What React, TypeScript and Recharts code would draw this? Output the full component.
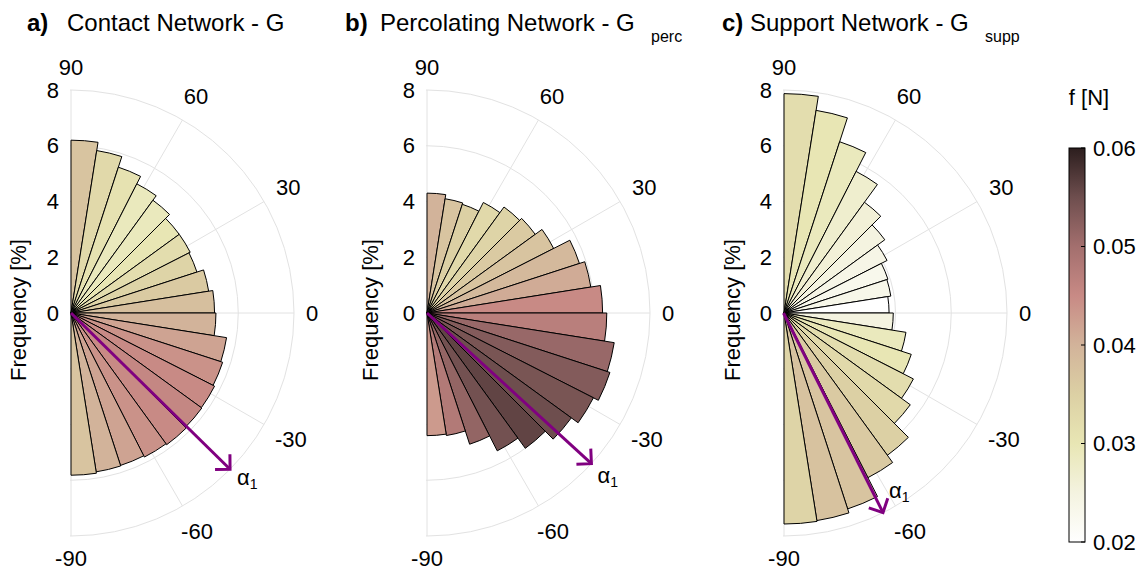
import React from 'react';
import { RadialBarChart, RadialBar, PolarAngleAxis, PolarRadiusAxis, PolarGrid, Cell } from 'recharts';

const FONT = '"Liberation Sans", Arial, Helvetica, sans-serif';

// orientation bins (deg), 9 deg wide, listed from +90 down to -90
const bins = [
  '85.5', '76.5', '67.5', '58.5', '49.5', '40.5', '31.5', '22.5', '13.5', '4.5',
  '-4.5', '-13.5', '-22.5', '-31.5', '-40.5', '-49.5', '-58.5', '-67.5', '-76.5', '-85.5',
];

// a) contact network
const contactFreq = [6.2, 5.9, 5.5, 5.2, 5.0, 4.8, 4.8, 4.75, 5.0, 5.15, 5.2, 5.65, 5.72, 5.78, 5.8, 5.84, 5.8, 5.75, 5.77, 5.82];
const contactForce = [0.037, 0.033, 0.031, 0.029, 0.029, 0.03, 0.032, 0.034, 0.036, 0.038, 0.04, 0.042, 0.044, 0.045, 0.0455, 0.045, 0.044, 0.042, 0.04, 0.037];

// b) percolating network
const percFreq = [4.3, 4.15, 4.1, 4.45, 4.7, 4.8, 5.1, 5.75, 5.95, 6.3, 6.45, 6.8, 6.9, 6.7, 6.4, 6.0, 5.55, 4.95, 4.45, 4.4];
const percForce = [0.04, 0.037, 0.035, 0.033, 0.034, 0.036, 0.037, 0.039, 0.041, 0.045, 0.047, 0.051, 0.053, 0.054, 0.055, 0.056, 0.0545, 0.0515, 0.048, 0.043];

// c) support network
const suppFreq = [7.87, 7.36, 6.46, 5.7, 4.91, 4.47, 4.15, 3.92, 3.88, 3.77, 3.92, 4.43, 4.8, 5.21, 5.6, 6.31, 6.63, 7.39, 7.54, 7.57];
const suppForce = [0.032, 0.03, 0.029, 0.027, 0.026, 0.025, 0.024, 0.023, 0.0235, 0.02, 0.025, 0.029, 0.03, 0.032, 0.033, 0.035, 0.036, 0.037, 0.0375, 0.034];

// principal direction alpha_1 (deg)
const alphaContact = -44.5;
const alphaPerc = -42.5;
const alphaSupp = -63.5;

const angleTicks = [90, 60, 30, 0, -30, -60, -90];
const radiusTicks = [0, 2, 4, 6, 8];
const forceTicks = [0.02, 0.03, 0.04, 0.05, 0.06];

// colormap, force [N] -> colour
const cmapPos = [0.02, 0.025, 0.03, 0.035, 0.04, 0.045, 0.05, 0.055, 0.06];
const cmapCol = ['#ffffff', '#f4f3e0', '#e8e6b4', '#dcd0a4', '#d2b39a', '#c88a85', '#a36f6e', '#6e4e4e', '#2c1e1e'];

const hex = (c: string) => [1, 3, 5].map(i => parseInt(c.slice(i, i + 2), 16));

const forceColor = (f: number) => {
  if (f <= cmapPos[0]) return cmapCol[0];
  for (let i = 1; i < cmapPos.length; i++) {
    if (f <= cmapPos[i]) {
      const t = (f - cmapPos[i - 1]) / (cmapPos[i] - cmapPos[i - 1]);
      const a = hex(cmapCol[i - 1]);
      const b = hex(cmapCol[i]);
      const m = a.map((v, k) => Math.round(v + (b[k] - v) * t));
      return `rgb(${m[0]},${m[1]},${m[2]})`;
    }
  }
  return cmapCol[cmapCol.length - 1];
};

const W = 1148;
const H = 574;
const PANEL_W = 345;
const CX = 71;
const CY = 313;
const R = 223;
const FS = 22;
const BIN = 9;
// recharts starts each centric bar one band past its tick, so the
// angular range is turned back by one bin to put bin 0 at 81..90 deg
const START = 90 - BIN;
const END = -90 - BIN;

const panels = [
  { id: 'a', left: 0, freq: contactFreq, force: contactForce, alpha: alphaContact, lab: [7, 16] },
  { id: 'b', left: 356, freq: percFreq, force: percForce, alpha: alphaPerc, lab: [6, 19] },
  { id: 'c', left: 712.5, freq: suppFreq, force: suppForce, alpha: alphaSupp, lab: [6, -15] },
];

const labelWidth = (s: string) => s.split('').reduce((w, ch) => w + (ch === '-' ? 7.3 : 12.2), 0);

// angle tick labels sit just outside the outer ring, at the tick's own angle
const AngleTick = (props: any) => {
  const { payload } = props;
  const a = (Number(payload.value) * Math.PI) / 180;
  const label = String(payload.value);
  const r = R + 12 + (Math.abs(Math.cos(a)) * labelWidth(label)) / 2 + Math.abs(Math.sin(a)) * 10.5;
  return (
    <text x={CX + r * Math.cos(a)} y={CY - r * Math.sin(a)} textAnchor="middle" dominantBaseline="central"
      fontSize={FS} fontFamily={FONT} fill="#000">
      {label}
    </text>
  );
};

const RadiusTick = (props: any) => {
  const { x, y, payload } = props;
  return (
    <text x={x - 12} y={y} textAnchor="end" dominantBaseline="central" fontSize={FS} fontFamily={FONT} fill="#000">
      {payload.value}
    </text>
  );
};

const RosePanel = ({ id, freq, force }: { id: string; freq: number[]; force: number[] }) => {
  const data = bins.map((bin, i) => ({ bin, freq: freq[i], force: force[i] }));
  return (
    <RadialBarChart
      width={PANEL_W}
      height={H}
      data={data}
      layout="centric"
      cx={CX}
      cy={CY}
      innerRadius={0}
      outerRadius={R}
      startAngle={START}
      endAngle={END}
      barCategoryGap={0}
      barGap={0}
      margin={{ top: 0, right: 0, bottom: 0, left: 0 }}
    >
      <defs>
        <clipPath id={`half-${id}`}>
          <rect x={CX - 1} y={0} width={PANEL_W} height={H} />
        </clipPath>
      </defs>
      <PolarAngleAxis angleAxisId={0} dataKey="bin" type="category" tick={false} tickLine={false} axisLine={false} />
      <PolarAngleAxis angleAxisId="deg" type="number" domain={[-90, 90]} ticks={angleTicks}
        tick={AngleTick} tickLine={false} axisLine={false} />
      <PolarRadiusAxis type="number" domain={[0, 8]} ticks={radiusTicks} angle={90}
        axisLine={false} tickLine={false} tick={RadiusTick} />
      <PolarGrid polarAngles={angleTicks} gridType="circle" stroke="#e2e2e2" strokeWidth={1}
        clipPath={`url(#half-${id})`} />
      <RadialBar dataKey="freq" isAnimationActive={false} stroke="#000" strokeWidth={1}>
        {data.map((d, i) => (
          <Cell key={`cell-${i}`} fill={forceColor(d.force)} />
        ))}
      </RadialBar>
    </RadialBarChart>
  );
};

const Arrow = ({ left, alpha, lab }: { left: number; alpha: number; lab: number[] }) => {
  const a = (alpha * Math.PI) / 180;
  const x0 = left + CX;
  const y0 = CY;
  const x1 = x0 + R * Math.cos(a);
  const y1 = y0 - R * Math.sin(a);
  const back = a + Math.PI;
  const head = 15;
  const h1 = back + Math.PI / 4;
  const h2 = back - Math.PI / 4;
  const col = '#800080';
  return (
    <g>
      <line x1={x0} y1={y0} x2={x1} y2={y1} stroke={col} strokeWidth={3} />
      <polyline
        points={`${x1 + head * Math.cos(h1)},${y1 - head * Math.sin(h1)} ${x1},${y1} ${x1 + head * Math.cos(h2)},${y1 - head * Math.sin(h2)}`}
        fill="none" stroke={col} strokeWidth={3}
      />
      <text x={x1 + lab[0]} y={y1 + lab[1]} fontSize={FS} fontFamily={FONT} fill="#000">
        α<tspan fontSize={14} dy={4}>1</tspan>
      </text>
    </g>
  );
};

const CB_X = 1069;
const CB_W = 16;
const CB_TOP = 148;
const CB_BOT = 542;
const cbY = (f: number) => CB_BOT - ((f - 0.02) / 0.04) * (CB_BOT - CB_TOP);

export default function App() {
  return (
    <div style={{ position: 'absolute', left: 0, top: 0, width: W, height: H, background: '#fff', fontFamily: FONT }}>
      {panels.map(p => (
        <div key={p.id} style={{ position: 'absolute', left: p.left, top: 0 }}>
          <RosePanel id={p.id} freq={p.freq} force={p.force} />
        </div>
      ))}
      <svg width={W} height={H} style={{ position: 'absolute', left: 0, top: 0, pointerEvents: 'none' }}>
        <defs>
          <linearGradient id="cbar" x1="0" y1="1" x2="0" y2="0">
            {cmapPos.map((f, i) => (
              <stop key={i} offset={`${((f - 0.02) / 0.04) * 100}%`} stopColor={cmapCol[i]} />
            ))}
          </linearGradient>
        </defs>

        {/* titles */}
        <text y={31} fontSize={24} fontFamily={FONT} fill="#000">
          <tspan x={27} fontWeight="bold">a)</tspan>
          <tspan x={67}>Contact Network - G</tspan>
        </text>
        <text y={31} fontSize={24} fontFamily={FONT} fill="#000">
          <tspan x={345} fontWeight="bold">b)</tspan>
          <tspan x={380}>Percolating Network - G</tspan>
          <tspan x={651} y={42} fontSize={16}>perc</tspan>
        </text>
        <text y={31} fontSize={24} fontFamily={FONT} fill="#000">
          <tspan x={722} fontWeight="bold">c)</tspan>
          <tspan x={750}>Support Network - G</tspan>
          <tspan x={985} y={42} fontSize={16}>supp</tspan>
        </text>

        {/* radius axis titles */}
        {[18, 370, 732].map(x => (
          <text key={x} x={x} y={CY - 3} transform={`rotate(-90 ${x} ${CY - 3})`} textAnchor="middle"
            dominantBaseline="central" fontSize={FS} fontFamily={FONT} fill="#000">
            Frequency [%]
          </text>
        ))}

        {panels.map(p => (
          <Arrow key={p.id} left={p.left} alpha={p.alpha} lab={p.lab} />
        ))}

        {/* colorbar */}
        <text x={1089} y={97} textAnchor="middle" dominantBaseline="central" fontSize={FS} fontFamily={FONT} fill="#000">
          f [N]
        </text>
        <rect x={CB_X} y={CB_TOP} width={CB_W} height={CB_BOT - CB_TOP} fill="url(#cbar)" stroke="#000" strokeWidth={1} />
        {forceTicks.map(f => (
          <g key={f}>
            <line x1={CB_X + CB_W - 4} x2={CB_X + CB_W} y1={cbY(f)} y2={cbY(f)} stroke="#000" strokeWidth={1} />
            <text x={CB_X + CB_W + 8} y={cbY(f)} dominantBaseline="central" fontSize={FS} fontFamily={FONT} fill="#000">
              {f.toFixed(2)}
            </text>
          </g>
        ))}
      </svg>
    </div>
  );
}
